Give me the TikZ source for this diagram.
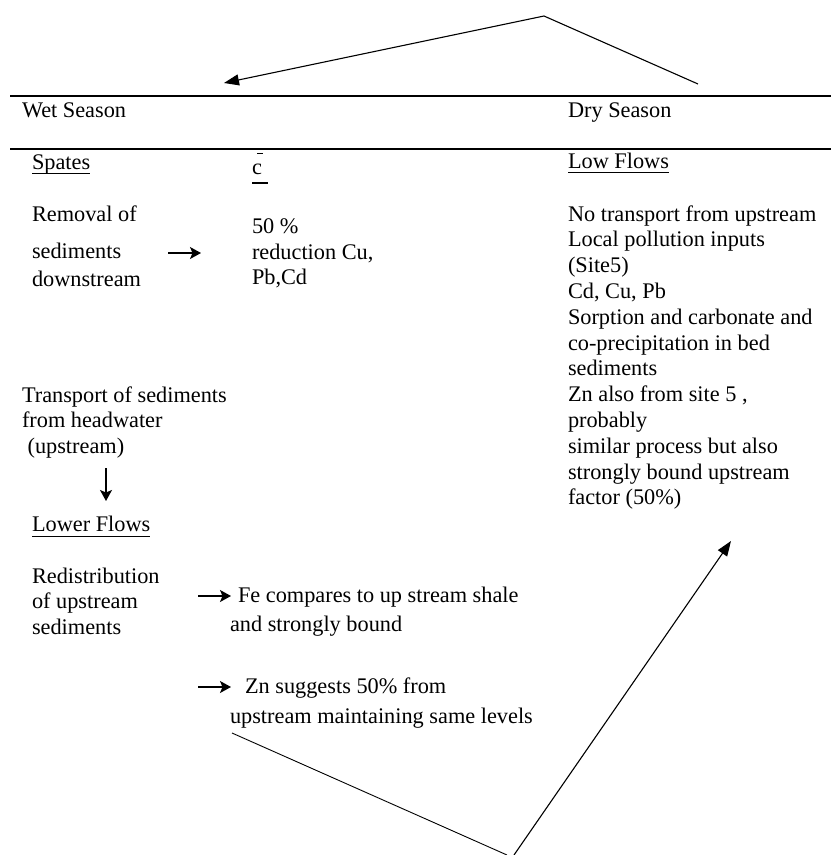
\documentclass[tikz,border=0pt]{standalone}
\usepackage{fontspec}
\setmainfont{Liberation Serif}
\usetikzlibrary{arrows.meta}
\begin{document}
\begin{tikzpicture}[x=1pt,y=-1pt,
  txt/.style={anchor=base west,inner sep=0pt,outer sep=0pt,font=\fontsize{22.3}{25.8}\selectfont},
  blk/.style={txt,align=left},
  rule/.style={line width=1.6pt},
  uline/.style={line width=1pt},
  shortarrow/.style={line width=1.4pt,-{Stealth[length=11pt,width=12pt,inset=2.5pt]}},
  longarrow/.style={line width=1.1pt,-{Triangle[length=15pt,width=11pt]}},
  thinline/.style={line width=0.9pt}]
\useasboundingbox (0,0) rectangle (831,855);

% table rules
\coordinate (r1a) at (10,96);  \coordinate (r1b) at (831,96);
\coordinate (r2a) at (10,149); \coordinate (r2b) at (831,149);
\draw[rule] (r1a) -- (r1b);
\draw[rule] (r2a) -- (r2b);

% headers
\node[txt] (wet) at (22,117) {Wet Season};
\node[txt] (dry) at (568,117) {Dry Season};

% left column
\node[txt] (spates) at (32,169) {Spates};
\draw[uline] ([yshift=-4pt]spates.base west) -- ([yshift=-4pt]spates.base east);
\node[txt] (cbar) at (252,174) {c};
\coordinate (cb1) at (257,153); \coordinate (cb2) at (263,153);
\draw[line width=0.7pt] (cb1) -- (cb2);
\coordinate (cu1) at (252,183); \coordinate (cu2) at (268,183);
\draw[line width=1.8pt] (cu1) -- (cu2);

\node[txt] (rem1) at (32,221) {Removal of};
\node[txt] (rem2) at (32,258) {sediments};
\node[txt] (rem3) at (32,286) {downstream};
\coordinate (a1s) at (168,253); \coordinate (a1e) at (201,253);
\draw[shortarrow] (a1s) -- (a1e);
\node[txt] (red1) at (252,233) {50 \%};
\node[txt] (red2) at (252,259) {reduction Cu,};
\node[txt] (red3) at (252,284) {Pb,Cd};

% multi-line nodes: base anchor is the baseline of the last line
\node[blk] (trans) at (22,453.6) {Transport of sediments\\from headwater\\\ (upstream)};
\coordinate (a2s) at (106,468); \coordinate (a2e) at (106,501);
\draw[shortarrow] (a2s) -- (a2e);

\node[txt] (lower) at (32,531) {Lower Flows};
\draw[uline] ([yshift=-5pt]lower.base west) -- ([yshift=-5pt]lower.base east);

\node[blk] (redis) at (32,634.6) {Redistribution\\of upstream\\sediments};
\coordinate (a3s) at (198,596); \coordinate (a3e) at (231,596);
\draw[shortarrow] (a3s) -- (a3e);
\node[txt] (fe1) at (238,602) {Fe compares to up stream shale};
\node[txt] (fe2) at (230,631) {and strongly bound};
\coordinate (a4s) at (198,687); \coordinate (a4e) at (231,687);
\draw[shortarrow] (a4s) -- (a4e);
\node[txt] (zn1) at (245,693) {Zn suggests 50\% from};
\node[txt] (zn2) at (230,723) {upstream maintaining same levels};

% right column
\node[txt] (low) at (568,168) {Low Flows};
\draw[uline] ([yshift=-4pt]low.base west) -- ([yshift=-4pt]low.base east);
\node[blk] (dryblk) at (568,504.8) {No transport from upstream\\Local pollution inputs\\(Site5)\\Cd, Cu, Pb\\Sorption and carbonate and\\co-precipitation in bed\\sediments\\Zn also from site 5 ,\\probably\\similar process but also\\strongly bound upstream\\factor (50\%)};

% big connectors
\coordinate (t1) at (698,84); \coordinate (t2) at (544,16); \coordinate (t3) at (224,83);
\draw[longarrow] (t1) -- (t2) -- (t3);
\coordinate (b1) at (232,733); \coordinate (b2) at (507,855);
\draw[thinline] (b1) -- (b2);
\coordinate (b3) at (514,855); \coordinate (b4) at (731,541);
\draw[longarrow] (b3) -- (b4);
\end{tikzpicture}
\end{document}
